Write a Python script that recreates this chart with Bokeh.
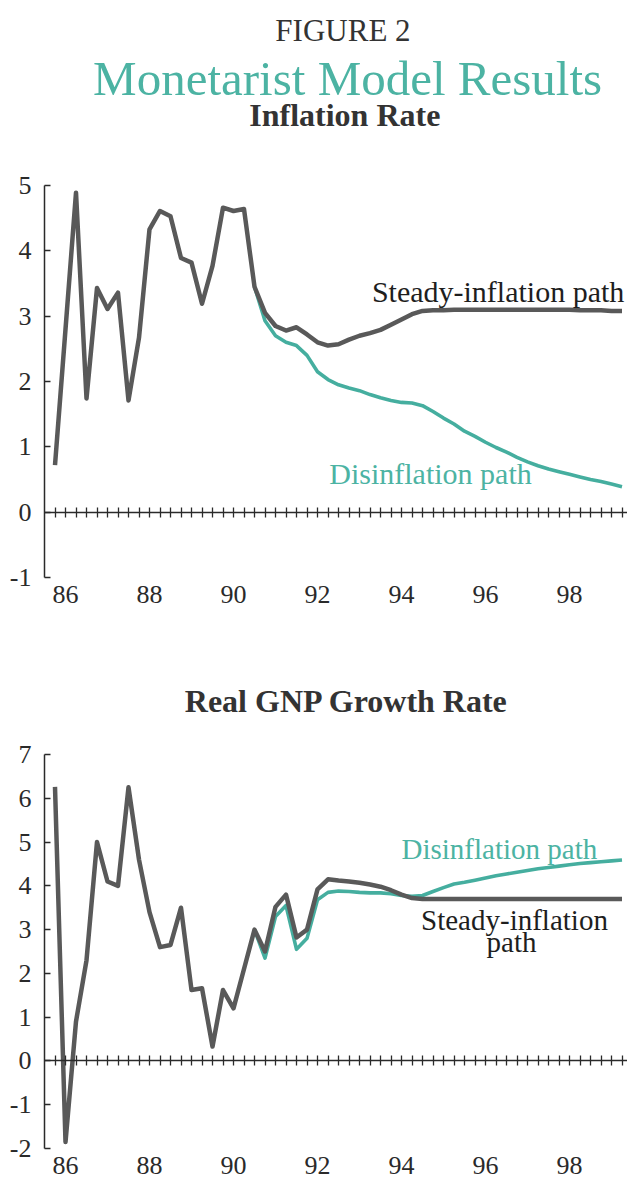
from bokeh.plotting import figure
from bokeh.models import Range1d, LinearAxis, FixedTicker
from bokeh.layouts import column
from bokeh.core.properties import value
from bokeh.embed import file_html
from bokeh.resources import INLINE

NaN = float("nan")

# ---------------- data ----------------
first_quarter = 85.75          # 1985 Q4, in years ("86" label = start of 1986)
n_quarters = 55
quarters = [first_quarter + 0.25 * k for k in range(n_quarters)]

year_ticks = [86, 88, 90, 92, 94, 96, 98]
year_labels = ["86", "88", "90", "92", "94", "96", "98"]

infl_ticks = [-1, 0, 1, 2, 3, 4, 5]
infl_tick_labels = ["-1", "0", "1", "2", "3", "4", "5"]
gnp_ticks = [-2, -1, 0, 1, 2, 3, 4, 5, 6, 7]
gnp_tick_labels = ["-2", "-1", "0", "1", "2", "3", "4", "5", "6", "7"]

infl_steady = [0.72, 2.8, 4.89, 1.74, 3.43, 3.11, 3.36, 1.71, 2.67, 4.33,
               4.61, 4.53, 3.89, 3.82, 3.19, 3.77, 4.66, 4.61, 4.64, 3.45,
               3.05, 2.85, 2.78, 2.83, 2.72, 2.60, 2.55, 2.57, 2.64, 2.70,
               2.74, 2.79, 2.87, 2.95, 3.03, 3.08, 3.09, 3.09, 3.10, 3.10,
               3.10, 3.10, 3.10, 3.10, 3.10, 3.10, 3.10, 3.10, 3.10, 3.10,
               3.09, 3.09, 3.09, 3.08, 3.08]
infl_disinf = [NaN] * 19 + [
               3.45, 2.93, 2.70, 2.60, 2.55, 2.40, 2.15, 2.03, 1.95, 1.90,
               1.86, 1.80, 1.75, 1.71, 1.68, 1.67, 1.63, 1.54, 1.44, 1.35,
               1.24, 1.16, 1.07, 0.99, 0.92, 0.84, 0.77, 0.71, 0.66, 0.62,
               0.58, 0.54, 0.50, 0.47, 0.43, 0.39]

gnp_steady = [6.26, -1.85, 0.9, 2.3, 5.0, 4.1, 4.0, 6.25, 4.6, 3.4,
              2.6, 2.65, 3.5, 1.62, 1.66, 0.33, 1.62, 1.2, 2.1, 3.0,
              2.5, 3.52, 3.8, 2.82, 3.0, 3.92, 4.15, 4.12, 4.10, 4.07,
              4.03, 3.98, 3.90, 3.80, 3.72, 3.70, 3.70, 3.70, 3.70, 3.70,
              3.70, 3.70, 3.70, 3.70, 3.70, 3.70, 3.70, 3.70, 3.70, 3.70,
              3.70, 3.70, 3.70, 3.70, 3.70]
gnp_disinf = [NaN] * 19 + [
              3.0, 2.35, 3.3, 3.55, 2.55, 2.8, 3.68, 3.85, 3.88, 3.87,
              3.85, 3.84, 3.84, 3.82, 3.78, 3.76, 3.78, 3.87, 3.96, 4.04,
              4.08, 4.13, 4.18, 4.23, 4.27, 4.31, 4.35, 4.39, 4.42, 4.45,
              4.48, 4.51, 4.53, 4.55, 4.57, 4.59]

# ---------------- style ----------------
FONT = "Liberation Serif"
SERIF = value(FONT)
TEAL = "#4cb3a3"
TEAL_LINE = "#45ae9f"
GRAY_LINE = "#595959"
INK = "#2a2a2a"
W = 627
PX_PER_YEAR = 42.0
X0 = 85.5
LEFT = 44


def header(height, items):
    p = figure(width=W, height=height, x_range=Range1d(0, W), y_range=Range1d(height, 0),
               toolbar_location=None, output_backend="svg", x_axis_type=None, y_axis_type=None,
               min_border=0, outline_line_color=None)
    for (x, y, txt, size, style, color) in items:
        p.text(x=[x], y=[y], text=[txt], text_font=SERIF, text_font_size=size,
               text_font_style=style, text_color=color, text_align="center",
               text_baseline="alphabetic")
    return p


def chart(height, ymin, ymax, yticks, ylabels, top, bottom, steady, disinf, labels):
    frame_w = W - LEFT
    p = figure(width=W, height=height,
               x_range=Range1d(X0, X0 + frame_w / PX_PER_YEAR), y_range=Range1d(ymin, ymax),
               toolbar_location=None, output_backend="svg", x_axis_type=None, y_axis_type=None,
               min_border_left=LEFT, min_border_right=0, min_border_top=top,
               min_border_bottom=bottom, outline_line_color=None)

    yaxis = LinearAxis(ticker=FixedTicker(ticks=yticks),
                       major_label_overrides={t: s for t, s in zip(yticks, ylabels)},
                       axis_line_width=1.5,
                       axis_line_color=INK, major_tick_in=6, major_tick_out=0,
                       major_tick_line_width=1.5, major_tick_line_color=INK,
                       minor_tick_line_color=None, major_label_standoff=13,
                       major_label_text_font=FONT, major_label_text_font_size="26px",
                       major_label_text_color=INK)
    p.add_layout(yaxis, "left")

    xlab = LinearAxis(ticker=FixedTicker(ticks=year_ticks),
                      major_label_overrides={t: s for t, s in zip(year_ticks, year_labels)},
                      axis_line_color=None, major_tick_line_color=None,
                      minor_tick_line_color=None, major_label_standoff=2,
                      major_label_text_font=FONT, major_label_text_font_size="26px",
                      major_label_text_color=INK)
    p.add_layout(xlab, "below")

    xzero = LinearAxis(fixed_location=0, ticker=FixedTicker(ticks=quarters),
                       axis_line_width=1.6, axis_line_color=INK,
                       major_tick_in=5, major_tick_out=5, major_tick_line_width=1.3,
                       major_tick_line_color=INK, minor_tick_line_color=None,
                       major_label_standoff=0, major_label_text_font_size="0px",
                       major_label_text_alpha=0)
    p.add_layout(xzero, "above")

    p.line(quarters, disinf, line_color=TEAL_LINE, line_width=3.6, line_join="round")
    p.line(quarters, steady, line_color=GRAY_LINE, line_width=4.5, line_join="round")

    for (x, y, txt, color, size) in labels:
        p.text(x=[x], y=[y], text=[txt], text_font=SERIF, text_font_size=size,
               text_color=color, text_align="center", text_baseline="alphabetic")
    return p


h1 = header(160, [
    (321, 30, "FIGURE 2", "31px", "normal", "#333333"),
    (326, 78, "Monetarist Model Results", "49px", "normal", TEAL),
    (323, 114, "Inflation Rate", "32px", "bold", "#333333"),
])

c1 = chart(460, -1, 5, infl_ticks, infl_tick_labels, 25, 43, infl_steady, infl_disinf, [
    (96.30, 3.38, "Steady-inflation path", "#1e1e1e", "30px"),
    (94.69, 0.59, "Disinflation path", TEAL, "30px"),
])

h2 = header(115, [
    (325, 80, "Real GNP Growth Rate", "32px", "bold", "#333333"),
])

c2 = chart(449, -2, 7, gnp_ticks, gnp_tick_labels, 19, 36, gnp_steady, gnp_disinf, [
    (96.33, 4.85, "Disinflation path", TEAL, "29px"),
    (96.69, 3.21, "Steady-inflation", "#1e1e1e", "29px"),
    (96.62, 2.71, "path", "#1e1e1e", "29px"),
])

layout = column(h1, c1, h2, c2, spacing=0)
open("out.html", "w").write(file_html(layout, INLINE))
